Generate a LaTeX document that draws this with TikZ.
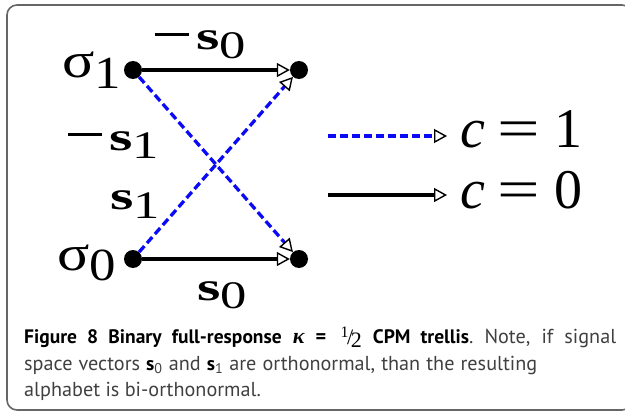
\documentclass[tikz,border=0pt]{standalone}
\usepackage{fontspec}
\setmainfont{Liberation Serif}
\newfontfamily\capfont{PT Sans}
\usetikzlibrary{arrows.meta}
\definecolor{trblue}{RGB}{10,10,245}
\definecolor{frm}{gray}{0.4}
\definecolor{captxt}{gray}{0.25}
\newcommand{\sig}[1]{\scalebox{1.2}[1]{\fontsize{50}{50}\selectfont σ}\scalebox{1.15}[1]{\raisebox{-10pt}{\fontsize{46}{46}\selectfont#1}}}
\newcommand{\mns}{\rule[14pt]{34pt}{2.6pt}\hspace{7pt}}
\newcommand{\vs}[1]{\scalebox{1.5}[1]{\fontsize{40}{40}\selectfont\textbf{s}}\scalebox{1.35}[1]{\raisebox{-9pt}{\fontsize{39}{39}\selectfont#1}}}
\newcommand{\ceq}[1]{\fontsize{56}{56}\selectfont\textit{c}\hspace{12pt}\scalebox{1.35}[1]{=}\hspace{15pt}#1}
\newcommand{\bfs}{{\color{black}\bfseries\fontsize{19.5}{20}\selectfont s}}

\begin{document}
\begin{tikzpicture}[x=1pt, y=-1pt,
  dot/.style={circle, fill=black, inner sep=0pt, minimum size=18pt},
  lb/.style={inner sep=0pt, anchor=base west},
  br/.style={draw=black, line width=3.2pt,
    -{Triangle[open, length=13pt, width=14pt, line width=1.4pt, color=black]}},
  dsh/.style={draw=trblue, line width=3.3pt, dash pattern=on 8pt off 4pt},
  pie/.style={inner sep=0pt, anchor=base west, font=\capfont\frenchspacing\fontsize{20.2}{20.2}\selectfont, text=captxt}]
  \useasboundingbox (0,0) rectangle (625,412);
  \draw[frm, line width=1.6pt, rounded corners=10pt] (7,5) rectangle (632,410);
  % estados
  \node[dot] (a1) at (133,70)  {};
  \node[dot] (b1) at (299,70)  {};
  \node[dot] (a0) at (133,259) {};
  \node[dot] (b0) at (299,259) {};
  \node[lb] (s1) at (62,78)  {\sig{1}};
  \node[lb] (s0) at (57,270) {\sig{0}};
  % ramas
  \node[lb] (m0) at (155,50)  {\mns\vs{0}};
  \node[lb] (m1) at (68,150)  {\mns\vs{1}};
  \node[lb] (p1) at (110,210) {\vs{1}};
  \node[lb] (p0) at (197,300) {\vs{0}};
  \draw[br] (a1) -- (b1);
  \draw[br] (a0) -- (b0);
  \draw[br, dsh] (a1) -- (b0);
  \draw[br, dsh] (a0) -- (b1);
  % leyenda
  \coordinate (k1) at (328,136); \coordinate (k1e) at (447,136);
  \coordinate (k0) at (328,195); \coordinate (k0e) at (447,195);
  \node[lb] (c1) at (460,147) {\ceq{1}};
  \node[lb] (c0) at (460,208) {\ceq{0}};
  \draw[br, dsh] (k1) -- (k1e);
  \draw[br] (k0) -- (k0e);
  % pie
  \node[pie] (t1) at (24,343) {\makebox[592pt][s]{{\color{black}\bfseries\fontsize{19.5}{20}\selectfont Figure 8 Binary full-response}
    {\rmfamily\bfseries\itshape\color{black}\fontsize{22}{22}\selectfont κ} {\color{black}\bfseries=}\,
    {\rmfamily\color{black}\fontsize{22}{22}\selectfont\raisebox{6pt}{\fontsize{16}{16}\selectfont 1}\kern-1.5pt\raisebox{-1pt}{/}\kern-2.5pt\raisebox{-4pt}{2}}
    {\color{black}\bfseries\fontsize{19.5}{20}\selectfont CPM trellis}. Note, if signal}};
  \node[pie] (t2) at (24,370) {\makebox[513pt][s]{space vectors \bfs\textsubscript{0} and \bfs\textsubscript{1} are orthonormal, than the resulting}};
  \node[pie] (t3) at (24,396) {alphabet is bi-orthonormal.};
\end{tikzpicture}
\end{document}
